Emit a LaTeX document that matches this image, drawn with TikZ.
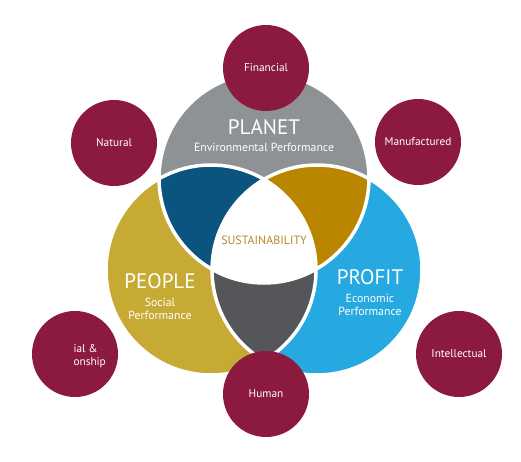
\documentclass[tikz,border=0pt]{standalone}
\usepackage{fontspec}
\setmainfont{PT Sans}

\definecolor{capmaroon}{HTML}{8C1A3E}
\definecolor{planetgray}{HTML}{8F9294}
\definecolor{peoplegold}{HTML}{C6AA34}
\definecolor{profitblue}{HTML}{25A9E0}
\definecolor{mixblue}{HTML}{0B5480}
\definecolor{mixgold}{HTML}{BA8600}
\definecolor{mixgray}{HTML}{55565A}
\definecolor{sustgold}{HTML}{B8892C}

\tikzset{
  capital/.style={circle, fill=capmaroon, minimum size=86pt, inner sep=0pt,
    text=white, font=\fontsize{11.3}{13}\selectfont},
  pillar/.style={text=white, font=\fontsize{21}{24}\selectfont},
  pillarsub/.style={text=white, align=center, font=\fontsize{11.8}{13.5}\selectfont}
}

\begin{document}
\begin{tikzpicture}[x=1pt,y=1pt]
\useasboundingbox (0,0) rectangle (521,461);

% the three pillars
\fill[planetgray] (264,283) circle (105pt);
\fill[peoplegold] (211,191) circle (105pt);
\fill[profitblue] (317,191) circle (105pt);

\begin{scope}
\clip (211,191) circle (105pt);
\fill[mixgray] (317,191) circle (105pt);
\end{scope}

\begin{scope}
\clip (264,283) circle (105pt);
\fill[mixblue] (211,191) circle (105pt);
\fill[mixgold] (317,191) circle (105pt);
\clip (211,191) circle (105pt);
\fill[white] (317,191) circle (105pt);
\end{scope}

\draw[white, line width=3.5pt] (264,283) circle (105pt) (211,191) circle (105pt) (317,191) circle (105pt);

\node[pillar] (planet) at (264,334) {PLANET};
\node[pillarsub] (planetsub) at (264,314) {Environmental Performance};
\node[pillar] (people) at (160,180) {PEOPLE};
\node[pillarsub] (peoplesub) at (160,152) {Social\\Performance};
\node[pillar] (profit) at (370,184) {PROFIT};
\node[pillarsub] (profitsub) at (370,156) {Economic\\Performance};
\node[text=sustgold, font=\fontsize{12}{14}\selectfont] (sust) at (264,221) {SUSTAINABILITY};

% the six capitals
\foreach \name/\x/\y/\txt in {financial/266/393/Financial, natural/114/318/Natural,
  manufactured/418/319/Manufactured, intellectual/459/107/Intellectual, human/266/67/Human}
  \node[capital] (\name) at (\x,\y) {\txt};
\node[capital] (social) at (75,107) {};
\node[text=white, align=left, anchor=west, font=\fontsize{11.3}{13}\selectfont] (sociallabel) at (70,105) {ial \&\\onship};

\end{tikzpicture}
\end{document}
